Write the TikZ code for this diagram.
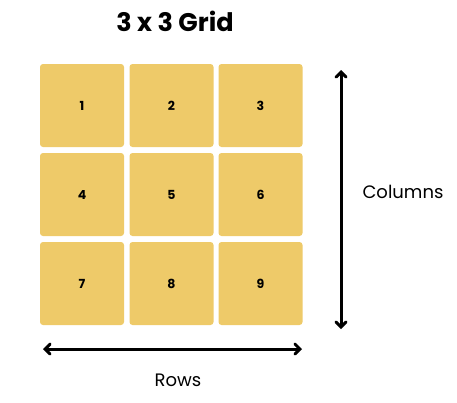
\documentclass[tikz,border=0pt]{standalone}
\usepackage{fontspec}
\setmainfont{Poppins}
\usetikzlibrary{arrows.meta}
\definecolor{cellyellow}{RGB}{238,202,105}
\tikzset{
  cell/.style={fill=cellyellow, rounded corners=3pt, minimum width=84pt, minimum height=83pt, inner sep=0pt, font=\fontsize{12.5}{14}\selectfont\bfseries},
  dimarrow/.style={line width=3pt, {Straight Barb[length=5pt,width=10pt,line cap=round]}-{Straight Barb[length=5pt,width=10pt,line cap=round]}},
  lbl/.style={font=\fontsize{18}{21}\selectfont}
}
\begin{document}
\begin{tikzpicture}[x=1pt,y=-1pt]
\useasboundingbox (0,0) rectangle (457,402);
\node[font=\fontsize{25.5}{30}\selectfont\bfseries] (title) at (175,21) {3 x 3 Grid};
\node[cell] (c1) at (82,105.5) {1};
\node[cell] (c2) at (171.5,105.5) {2};
\node[cell] (c3) at (260.5,105.5) {3};
\node[cell] (c4) at (82,194.5) {4};
\node[cell] (c5) at (171.5,194.5) {5};
\node[cell] (c6) at (260.5,194.5) {6};
\node[cell] (c7) at (82,283.5) {7};
\node[cell] (c8) at (171.5,283.5) {8};
\node[cell] (c9) at (260.5,283.5) {9};
\coordinate (vt) at (341,70);
\coordinate (vb) at (341,329);
\coordinate (hl) at (43,349);
\coordinate (hr) at (302,349);
\draw[dimarrow] (vt) -- (vb);
\draw[dimarrow] (hl) -- (hr);
\node[lbl] (cols) at (403,192) {Columns};
\node[lbl] (rows) at (178,380) {Rows};
\end{tikzpicture}
\end{document}
